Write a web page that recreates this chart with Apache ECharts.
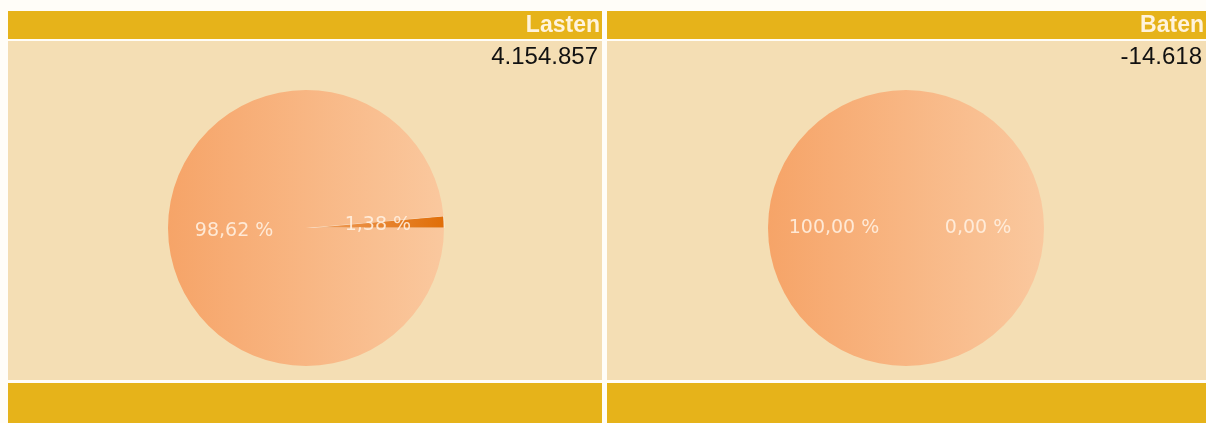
<!DOCTYPE html>
<html><head><meta charset="utf-8">
<script src="https://cdn.jsdelivr.net/npm/echarts@6/dist/echarts.min.js"></script>
<style>html,body{margin:0;padding:0;background:#fffdf8}#c{width:1206px;height:423px}</style>
</head><body><div id="c"></div>
<script>
const panelTitles = ['Lasten', 'Baten'];
const panelTotals = ['4.154.857', '-14.618'];
const sliceNames = ['Klein', 'Overig'];
const leftShares = [1.38, 98.62];
const rightShares = [0, 100];
const leftLabels = ['1,38 %', '98,62 %'];
const rightLabels = ['0,00 %', '100,00 %'];

const chart = echarts.init(document.getElementById('c'), null, {renderer: 'canvas'});
const panels = [{x: 8, w: 594}, {x: 607, w: 599}];
const graphic = [];
panels.forEach((p, i) => {
  graphic.push({type: 'rect', shape: {x: p.x, y: 11, width: p.w, height: 28}, style: {fill: '#E6B31A'}, z: -10});
  graphic.push({type: 'rect', shape: {x: p.x, y: 41, width: p.w, height: 339}, style: {fill: '#F4DEB4'}, z: -10});
  graphic.push({type: 'rect', shape: {x: p.x, y: 383, width: p.w, height: 40}, style: {fill: '#E6B31A'}, z: -10});
  graphic.push({type: 'text', x: p.x + p.w - 2, y: 26, style: {text: panelTitles[i], fill: '#FFF3DC', font: 'bold 23px "Liberation Sans", Arial', align: 'right', verticalAlign: 'middle'}});
  graphic.push({type: 'text', x: p.x + p.w - 4, y: 57, style: {text: panelTotals[i], fill: '#111', font: '24px "Liberation Sans", Arial', align: 'right', verticalAlign: 'middle'}});
});

const grad = new echarts.graphic.LinearGradient(0, 0, 1, 0, [
  {offset: 0, color: '#F6A468'}, {offset: 1, color: '#FAC89E'}]);
const smallGrad = new echarts.graphic.LinearGradient(0, 0, 1, 0, [
  {offset: 0, color: '#F0A060'}, {offset: 1, color: '#E06E08'}]);

function pie(center, shares, labels) {
  return {
    type: 'pie', center: center, radius: [0, 138], startAngle: 5, clockwise: true,
    silent: true, animation: false, avoidLabelOverlap: false,
    label: {show: true, position: 'inside', color: 'rgba(255,240,224,0.9)', fontFamily: 'DejaVu Sans', fontSize: 19,
      formatter: p => labels[p.dataIndex]},
    labelLine: {show: false},
    data: shares.map((v, k) => ({name: sliceNames[k], value: v,
      itemStyle: k === 0 ? {color: smallGrad, borderColor: 'rgba(255,255,255,0.6)', borderWidth: 1} : {color: grad, borderWidth: 0}}))
  };
}

chart.setOption({
  animation: false,
  graphic: graphic,
  series: [pie([306, 228], leftShares, leftLabels), Object.assign(pie([906, 228], rightShares, rightLabels), {startAngle: 0})]
});
</script></body></html>
